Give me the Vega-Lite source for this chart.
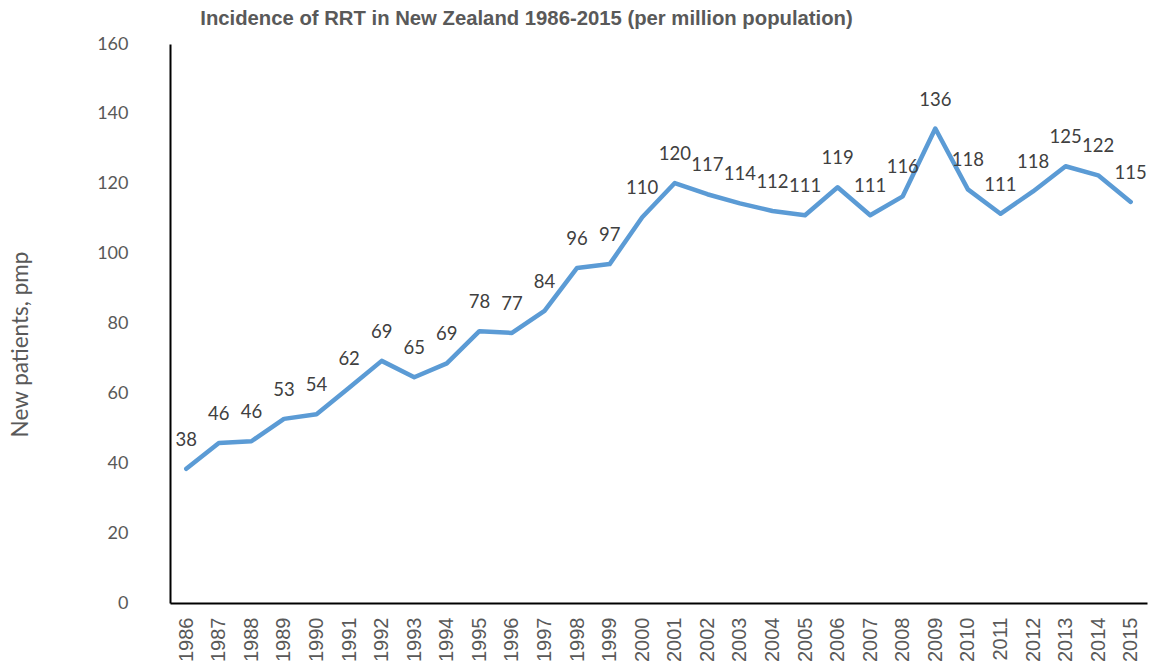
{
  "$schema": "https://vega.github.io/schema/vega-lite/v6.json",
  "width": 977,
  "height": 559,
  "autosize": {"type": "none"},
  "padding": {"left": 170, "top": 44, "right": 6, "bottom": 61},
  "background": "white",
  "config": {"view": {"stroke": null}},
  "title": {
    "text": "Incidence of RRT in New Zealand 1986-2015 (per million population)",
    "font": "Liberation Sans",
    "fontSize": 20.3,
    "fontWeight": "bold",
    "color": "#595959",
    "anchor": "middle",
    "dx": -132,
    "offset": 6
  },
  "data": {
    "values": [
      {"year": "1986", "value": 38.4},
      {"year": "1987", "value": 45.8},
      {"year": "1988", "value": 46.3},
      {"year": "1989", "value": 52.7},
      {"year": "1990", "value": 54.0},
      {"year": "1991", "value": 61.6},
      {"year": "1992", "value": 69.3},
      {"year": "1993", "value": 64.6},
      {"year": "1994", "value": 68.6},
      {"year": "1995", "value": 77.8},
      {"year": "1996", "value": 77.3},
      {"year": "1997", "value": 83.6},
      {"year": "1998", "value": 95.9},
      {"year": "1999", "value": 97.0},
      {"year": "2000", "value": 110.4},
      {"year": "2001", "value": 120.2},
      {"year": "2002", "value": 117.0},
      {"year": "2003", "value": 114.4},
      {"year": "2004", "value": 112.2},
      {"year": "2005", "value": 111.0},
      {"year": "2006", "value": 119.0},
      {"year": "2007", "value": 111.0},
      {"year": "2008", "value": 116.4},
      {"year": "2009", "value": 135.8},
      {"year": "2010", "value": 118.4},
      {"year": "2011", "value": 111.4},
      {"year": "2012", "value": 117.8},
      {"year": "2013", "value": 125.0},
      {"year": "2014", "value": 122.4},
      {"year": "2015", "value": 114.8}
    ]
  },
  "encoding": {
    "x": {
      "field": "year",
      "type": "ordinal",
      "scale": {"type": "point", "padding": 0.5},
      "axis": {
        "title": null,
        "labelAngle": -90,
        "labelFont": "Liberation Sans",
        "labelFontSize": 20,
        "labelColor": "#595959",
        "labelPadding": 14,
        "ticks": false,
        "domainColor": "#000000",
        "domainWidth": 2,
        "grid": false
      }
    },
    "y": {
      "field": "value",
      "type": "quantitative",
      "scale": {"domain": [0, 160], "nice": false},
      "axis": {
        "title": "New patients, pmp",
        "titleFont": "Lato",
        "titleFontSize": 22.5,
        "titleFontWeight": "normal",
        "titleColor": "#595959",
        "titleX": -150,
        "titleY": 300,
        "titleAngle": -90,
        "titleAlign": "center",
        "titleBaseline": "middle",
        "values": [0, 20, 40, 60, 80, 100, 120, 140, 160],
        "labelFont": "Lato",
        "labelFontSize": 18,
        "labelColor": "#595959",
        "labelPadding": 42,
        "ticks": false,
        "grid": false,
        "domainColor": "#000000",
        "domainWidth": 2
      }
    }
  },
  "layer": [
    {
      "mark": {"type": "line", "color": "#5B9BD5", "strokeWidth": 4.5, "strokeJoin": "round", "strokeCap": "round"}
    },
    {
      "mark": {"type": "text", "font": "Lato", "fontSize": 18.5, "color": "#404040", "baseline": "middle", "dy": -29},
      "encoding": {"text": {"field": "value", "type": "quantitative", "format": ".0f"}}
    }
  ]
}
